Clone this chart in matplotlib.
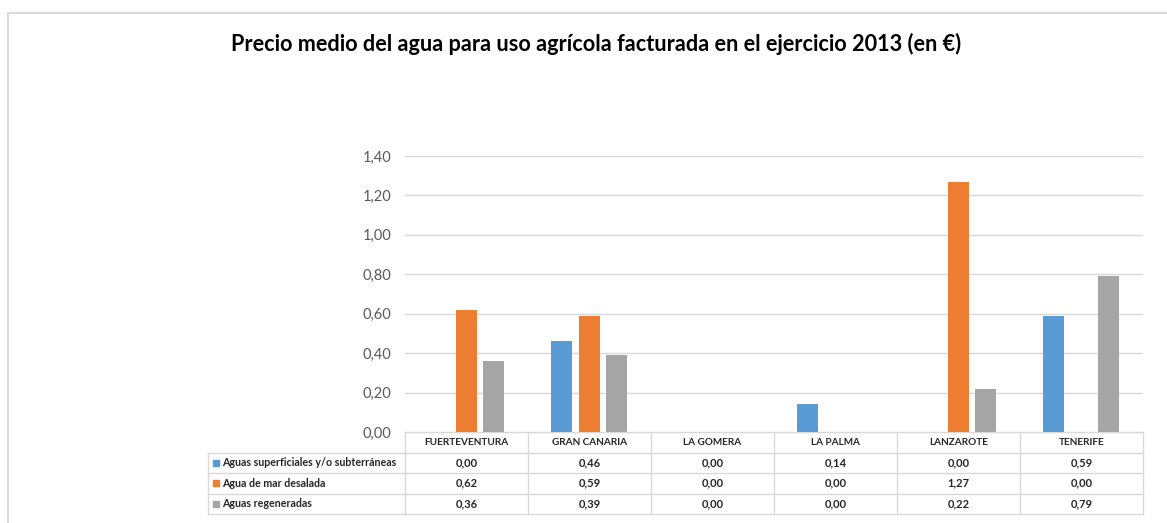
import matplotlib
matplotlib.use('Agg')
import matplotlib.pyplot as plt
import matplotlib.transforms as mtrans
from matplotlib.lines import Line2D
from matplotlib.ticker import FuncFormatter
import numpy as np

plt.rcParams['font.family'] = ['Lato', 'DejaVu Sans']

islas = ['FUERTEVENTURA', 'GRAN CANARIA', 'LA GOMERA', 'LA PALMA', 'LANZAROTE', 'TENERIFE']
series = ['Aguas superficiales y/o subterráneas', 'Agua de mar desalada', 'Aguas regeneradas']
superficiales = [0.00, 0.46, 0.00, 0.14, 0.00, 0.59]
desalada = [0.62, 0.59, 0.00, 0.00, 1.27, 0.00]
regeneradas = [0.36, 0.39, 0.00, 0.00, 0.22, 0.79]
colores = ['#5B9BD5', '#ED7D31', '#A5A5A5']

W, H = 1167, 523
fig = plt.figure(figsize=(W / 100, H / 100), dpi=100)

# chart frame (light border, cut at right/bottom like the screenshot)
border = '#D9D9D9'
fig.add_artist(Line2D([7.5 / W, 7.5 / W], [0, 1 - 12.5 / H], color=border, lw=1.5))
fig.add_artist(Line2D([7.5 / W, 1], [1 - 12.5 / H, 1 - 12.5 / H], color=border, lw=1.5))

fig.text(596 / W, 1 - 44 / H, 'Precio medio del agua para uso agrícola facturada en el ejercicio 2013 (en €)',
         ha='center', va='center', fontsize=15.6, fontweight='bold', color='black')

ax = fig.add_axes([405 / W, 1 - 432 / H, (1143 - 405) / W, (432 - 156) / H])
x = np.arange(len(islas))
width = 0.171
offs = [-0.224, 0.0, 0.222]
for vals, off, c, lab in zip([superficiales, desalada, regeneradas], offs, colores, series):
    ax.bar(x + off, vals, width, color=c, label=lab, zorder=3)

ax.set_xlim(-0.5, len(islas) - 0.5)
ax.set_ylim(0, 1.4)
ax.set_yticks(np.arange(0, 1.41, 0.2))
ax.yaxis.set_major_formatter(FuncFormatter(lambda v, p: f'{v:.2f}'.replace('.', ',')))
ax.tick_params(axis='y', length=0, pad=10, labelsize=10.5, labelcolor='#595959')
ax.set_xticks([])
for s in ['top', 'right', 'left']:
    ax.spines[s].set_visible(False)
ax.spines['bottom'].set_color(border)
ax.grid(True, axis='y', color=border, lw=1, zorder=0)

# data table below the plot
tab = fig.add_axes([0, 0, 1, 1], zorder=-1)
tab.set_xlim(0, W)
tab.set_ylim(H, 0)
tab.axis('off')
tr = mtrans.blended_transform_factory(ax.transData, tab.transData)

rows = [432, 452.5, 473, 493.5, 514]
lab_left = 208
tcol = '#262626'
# horizontal lines
for i, yy in enumerate(rows):
    if i > 0:
        tab.plot([lab_left, 405], [yy, yy], color=border, lw=1)
    tab.plot([-0.5, len(islas) - 0.5], [yy, yy], color=border, lw=1, transform=tr)
# vertical lines
for k in range(len(islas) + 1):
    tab.plot([k - 0.5, k - 0.5], [rows[0], rows[-1]], color=border, lw=1, transform=tr)
tab.plot([lab_left, lab_left], [rows[1], rows[-1]], color=border, lw=1)

for i, isla in enumerate(islas):
    tab.text(i, (rows[0] + rows[1]) / 2, isla, transform=tr, ha='center', va='center',
             fontsize=7.2, fontweight='bold', color=tcol)

for r, (vals, c, lab) in enumerate(zip([superficiales, desalada, regeneradas], colores, series)):
    yc = (rows[r + 1] + rows[r + 2]) / 2
    tab.add_patch(plt.Rectangle((212.5, yc - 3), 6, 6, color=c))
    tab.text(222.5, yc, lab, ha='left', va='center', fontsize=7.7, fontweight='bold', color=tcol)
    for i, v in enumerate(vals):
        tab.text(i, yc, f'{v:.2f}'.replace('.', ','), transform=tr, ha='center', va='center',
                 fontsize=8, fontweight='bold', color=tcol)

plt.savefig('out.png', dpi=100)
plt.close()
